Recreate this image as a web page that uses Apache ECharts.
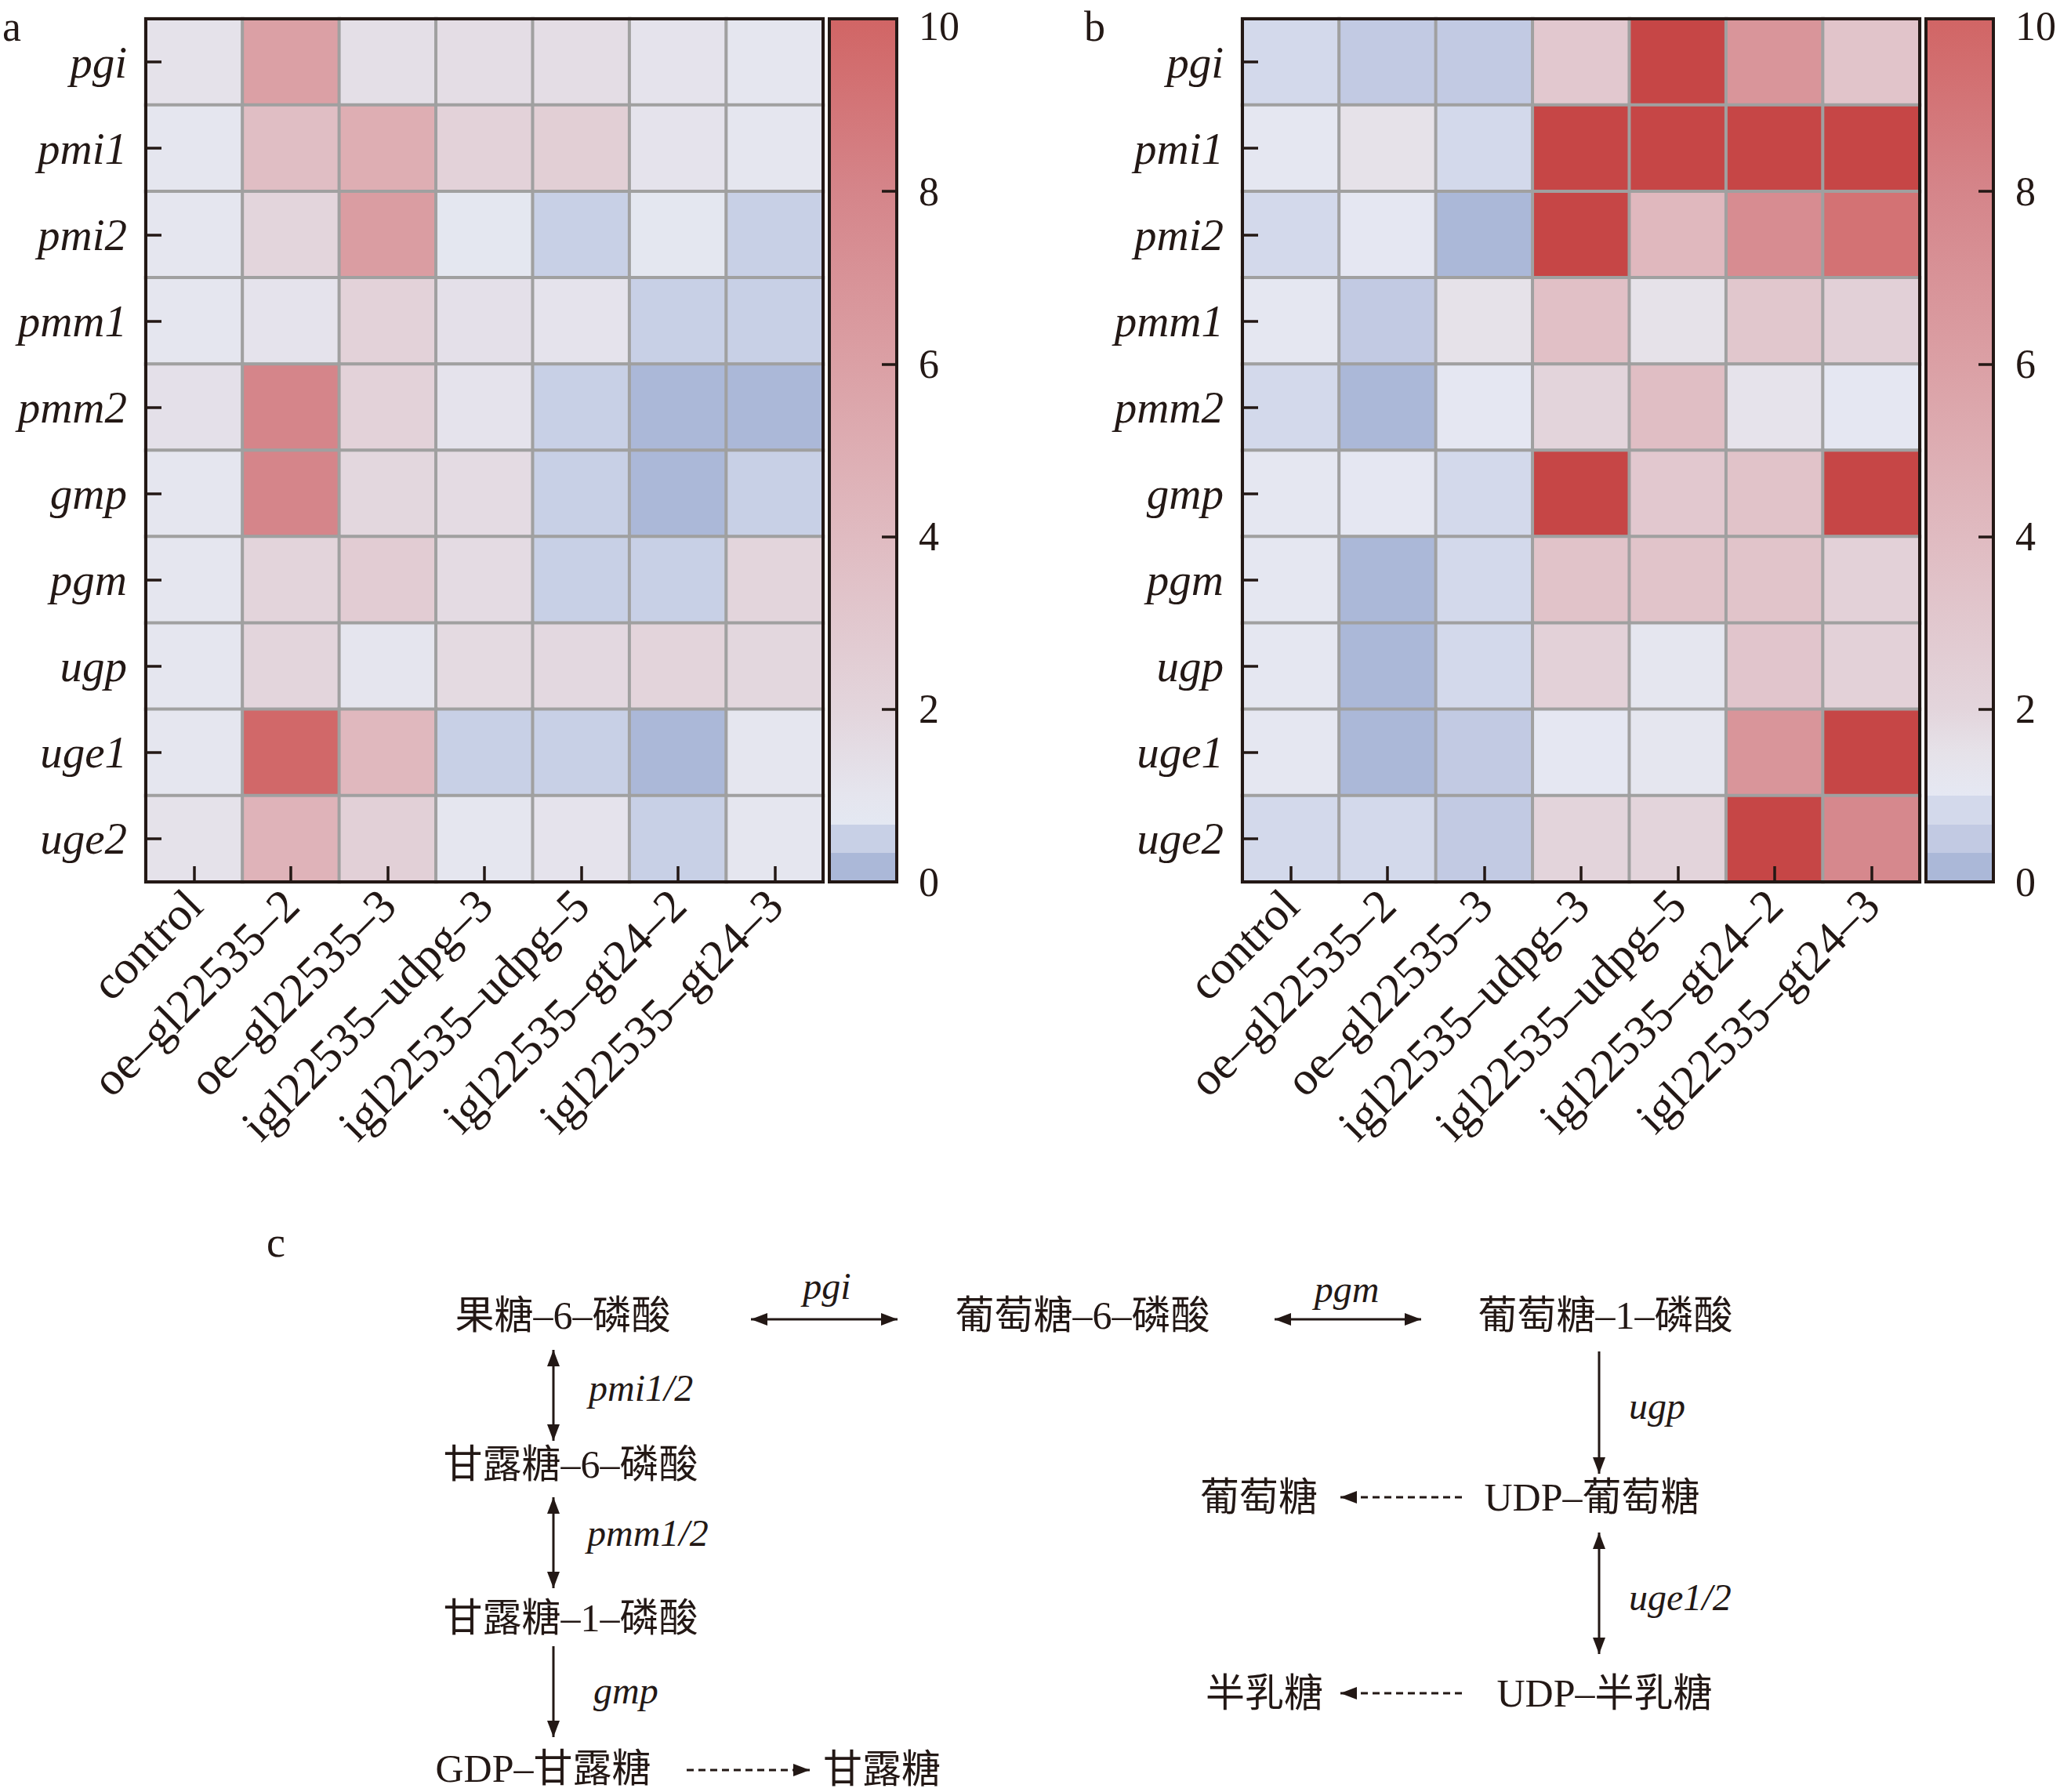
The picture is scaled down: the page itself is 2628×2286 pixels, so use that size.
<!DOCTYPE html>
<html>
<head>
<meta charset="utf-8">
<title>gene expression heatmaps</title>
<script src="https://cdn.jsdelivr.net/npm/echarts@6/dist/echarts.min.js"></script>
<style>
html, body { margin: 0; padding: 0; background: #fff; }
#chart { width: 2628px; height: 2286px; }
</style>
</head>
<body>
<div id="chart"></div>
<script>
// rows (genes) and columns (lines)
var genes = ['pgi', 'pmi1', 'pmi2', 'pmm1', 'pmm2', 'gmp', 'pgm', 'ugp', 'uge1', 'uge2'];
var samples = ['control', 'oe–gl22535–2', 'oe–gl22535–3', 'igl22535–udpg–3',
	'igl22535–udpg–5', 'igl22535–gt24–2', 'igl22535–gt24–3'];

// panel a, one row per gene, columns in sample order
var valuesA = [
	[1.2, 6.0, 1.4, 1.5, 1.5, 1.1, 0.9],
	[0.9, 3.8, 5.0, 2.2, 2.5, 1.1, 0.9],
	[0.9, 2.0, 6.2, 0.8, 0.5, 0.8, 0.5],
	[0.9, 1.1, 2.2, 1.3, 1.1, 0.5, 0.5],
	[1.3, 8.0, 2.2, 1.1, 0.5, 0.2, 0.2],
	[0.9, 8.0, 1.9, 1.6, 0.5, 0.2, 0.5],
	[0.9, 2.1, 2.7, 1.6, 0.5, 0.5, 2.0],
	[0.9, 2.0, 1.0, 1.7, 1.8, 2.1, 1.9],
	[0.9, 9.8, 4.2, 0.5, 0.5, 0.2, 0.9],
	[1.2, 4.6, 2.4, 0.9, 1.1, 0.5, 0.9]
];
// panel b, same layout; 11 = above the top of the scale
var valuesB = [
	[0.8, 0.5, 0.5, 3.0, 11, 6.8, 3.3],
	[1.1, 1.5, 0.8, 11, 11, 11, 11],
	[0.8, 1.05, 0.2, 11, 4.2, 7.5, 9.2],
	[1.1, 0.5, 1.5, 3.6, 1.5, 3.1, 2.4],
	[0.8, 0.2, 1.05, 2.1, 3.8, 1.4, 1.05],
	[1.1, 1.05, 0.8, 11, 3.0, 3.4, 11],
	[1.1, 0.2, 0.8, 3.4, 3.3, 3.3, 2.3],
	[1.1, 0.2, 0.8, 2.3, 1.2, 3.2, 2.3],
	[1.1, 0.2, 0.5, 1.05, 1.2, 6.8, 11],
	[0.8, 0.8, 0.5, 2.1, 2.1, 11, 7.8]
];

// colour bar axis
var scaleMin = 0;
var scaleMax = 10;
var scaleStep = 2;

// pathway (panel c)
var pathwayNodes = ['果糖–6–磷酸', '葡萄糖–6–磷酸', '葡萄糖–1–磷酸', '甘露糖–6–磷酸', '甘露糖–1–磷酸',
	'GDP–甘露糖', '甘露糖', 'UDP–葡萄糖', '葡萄糖', 'UDP–半乳糖', '半乳糖'];
var pathwayLinks = [
	['果糖–6–磷酸', '葡萄糖–6–磷酸', 'pgi', 'both'],
	['葡萄糖–6–磷酸', '葡萄糖–1–磷酸', 'pgm', 'both'],
	['果糖–6–磷酸', '甘露糖–6–磷酸', 'pmi1/2', 'both'],
	['甘露糖–6–磷酸', '甘露糖–1–磷酸', 'pmm1/2', 'both'],
	['甘露糖–1–磷酸', 'GDP–甘露糖', 'gmp', 'single'],
	['GDP–甘露糖', '甘露糖', '', 'dashed'],
	['葡萄糖–1–磷酸', 'UDP–葡萄糖', 'ugp', 'single'],
	['UDP–葡萄糖', '葡萄糖', '', 'dashed'],
	['UDP–葡萄糖', 'UDP–半乳糖', 'uge1/2', 'both'],
	['UDP–半乳糖', '半乳糖', '', 'dashed']
];

// ---- styles / layout ----
var ink = '#231815';
var serif = "'Liberation Serif', 'Times New Roman', serif";
var cjk = "'Liberation Serif', 'Noto Sans CJK SC', serif";
var overColor = '#c64646';
var stopsA = [
	[0, '#abb8d8'], [0.333, '#abb8d8'],
	[0.333, '#c8d0e6'], [0.667, '#c8d0e6'],
	[0.667, '#e4e8f2'], [1.0, '#e5e5ee'], [2, '#e3d5dc'], [4, '#e0bbc1'],
	[6, '#dba0a5'], [8, '#d5858a'], [10, '#d16565']
];
var stopsB = [
	[0, '#abb8d8'], [0.333, '#abb8d8'],
	[0.333, '#c2cae3'], [0.667, '#c2cae3'],
	[0.667, '#d3d9eb'], [1.0, '#d3d9eb'],
	[1.0, '#e5e8f3'], [1.5, '#e6e2e9'], [2, '#e3d5dc'], [4, '#e0bbc1'],
	[6, '#dba0a5'], [8, '#d5858a'], [10, '#d16565']
];
var mapMax = 11;

var panels = [
	{ values: valuesA, stops: stopsA, letter: 'a', letterPos: [3, 7],
		heat: { left: 186, top: 24, width: 864, height: 1101 },
		bar: { left: 1058, top: 24, width: 86, height: 1101 } },
	{ values: valuesB, stops: stopsB, letter: 'b', letterPos: [1383, 7],
		heat: { left: 1585, top: 24, width: 864, height: 1101 },
		bar: { left: 2457, top: 24, width: 86, height: 1101 } }
];

var nodePos = {
	'果糖–6–磷酸': [718, 1678],
	'葡萄糖–6–磷酸': [1381, 1678],
	'葡萄糖–1–磷酸': [2048, 1678],
	'甘露糖–6–磷酸': [728, 1868],
	'甘露糖–1–磷酸': [728, 2064],
	'GDP–甘露糖': [693, 2256],
	'甘露糖': [1125, 2257],
	'UDP–葡萄糖': [2031, 1910],
	'葡萄糖': [1606, 1910],
	'UDP–半乳糖': [2047, 2160],
	'半乳糖': [1613, 2160]
};
// arrow end points and enzyme label anchor, in pathwayLinks order
var linkGeom = [
	{ p: [958, 1683, 1145, 1683], label: [1055, 1640], align: 'center' },
	{ p: [1626, 1683, 1813, 1683], label: [1718, 1644], align: 'center' },
	{ p: [706, 1722, 706, 1838], label: [751, 1770], align: 'left' },
	{ p: [706, 1910, 706, 2026], label: [749, 1955], align: 'left' },
	{ p: [706, 2100, 706, 2216], label: [757, 2156], align: 'left' },
	{ p: [876, 2258, 1033, 2258], label: null },
	{ p: [2040, 1724, 2040, 1880], label: [2078, 1793], align: 'left' },
	{ p: [1865, 1910, 1710, 1910], label: null },
	{ p: [2040, 1955, 2040, 2110], label: [2078, 2037], align: 'left' },
	{ p: [1865, 2160, 1710, 2160], label: null }
];

function hexToRgb(h){
	return [parseInt(h.slice(1, 3), 16), parseInt(h.slice(3, 5), 16), parseInt(h.slice(5, 7), 16)];
}
function mix(c1, c2, t){
	var a = hexToRgb(c1), b = hexToRgb(c2);
	return 'rgb(' + [0, 1, 2].map(function(i){ return Math.round(a[i] + (b[i] - a[i]) * t); }).join(',') + ')';
}
function colorAt(stops, v){
	if (v > scaleMax) return overColor;
	if (v <= stops[0][0]) return stops[0][1];
	for (var i = 0; i < stops.length - 1; i++) {
		var s0 = stops[i], s1 = stops[i + 1];
		if (s1[0] > s0[0] && v >= s0[0] && v <= s1[0]) {
			return mix(s0[1], s1[1], (v - s0[0]) / (s1[0] - s0[0]));
		}
	}
	return stops[stops.length - 1][1];
}
function sampleColors(stops){
	var out = [];
	for (var i = 0; i <= mapMax * 100; i++) out.push(colorAt(stops, i / 100));
	return out;
}
function heatData(values){
	var out = [];
	values.forEach(function(row, r){
		row.forEach(function(v, c){ out.push([c, r, v]); });
	});
	return out;
}
function colorbarRenderer(stops){
	var grad = stops.map(function(s){ return { offset: s[0] / scaleMax, color: s[1] }; });
	return function(params, api){
		var p0 = api.coord([0, api.value(0)]);
		var p1 = api.coord([1, api.value(1)]);
		return {
			type: 'rect',
			shape: { x: p0[0], y: p1[1], width: p1[0] - p0[0], height: p0[1] - p1[1] },
			style: { fill: new echarts.graphic.LinearGradient(0, 1, 0, 0, grad) }
		};
	};
}

var grids = [], xAxes = [], yAxes = [], series = [], visualMaps = [], graphics = [];
panels.forEach(function(pn, k){
	var gi = grids.length;
	grids.push(Object.assign({ show: true, z: 3, borderColor: ink, borderWidth: 4,
		backgroundColor: 'transparent', outerBoundsMode: 'none' }, pn.heat));
	grids.push(Object.assign({ show: true, z: 3, borderColor: ink, borderWidth: 4,
		backgroundColor: 'transparent', outerBoundsMode: 'none' }, pn.bar));

	xAxes.push({
		type: 'category', gridIndex: gi, data: samples, position: 'bottom', z: 4,
		axisLine: { show: true, onZero: false, lineStyle: { color: ink, width: 4 } },
		axisTick: { show: true, inside: true, alignWithLabel: true, interval: 0, length: 20,
			lineStyle: { color: ink, width: 3.5 } },
		axisLabel: { rotate: 45, interval: 0, margin: 20, fontFamily: serif, fontSize: 60, color: ink },
		splitLine: { show: false }
	});
	xAxes.push({ type: 'value', gridIndex: gi + 1, min: 0, max: 1, show: false,
		axisLine: { onZero: false } });

	yAxes.push({
		type: 'category', gridIndex: gi, data: genes, inverse: true, z: 4,
		axisLine: { show: true, onZero: false, lineStyle: { color: ink, width: 4 } },
		axisTick: { show: true, inside: true, alignWithLabel: true, interval: 0, length: 20,
			lineStyle: { color: ink, width: 3.5 } },
		axisLabel: { interval: 0, margin: 24, fontFamily: serif, fontStyle: 'italic', fontSize: 57, color: ink },
		splitLine: { show: false }
	});
	yAxes.push({
		type: 'value', gridIndex: gi + 1, min: scaleMin, max: scaleMax, interval: scaleStep,
		position: 'right', z: 4,
		axisLine: { show: true, onZero: false, lineStyle: { color: ink, width: 4 } },
		axisTick: { show: true, inside: true, length: 19, lineStyle: { color: ink, width: 3.5 } },
		axisLabel: {
			margin: 28, fontFamily: serif, fontSize: 52, lineHeight: 46, color: ink,
			showMinLabel: true, showMaxLabel: true,
			// top label sits against the page edge, nudge it down a little
			formatter: function(v){ return v === scaleMax ? '{top|' + v + '}' : String(v); },
			rich: { top: { padding: [18, 0, 0, 0], fontFamily: serif, fontSize: 52, lineHeight: 46, color: ink } }
		},
		splitLine: { show: false }
	});

	visualMaps.push({
		type: 'continuous', show: false, seriesIndex: series.length, dimension: 2,
		min: 0, max: mapMax, inRange: { color: sampleColors(pn.stops) }
	});
	series.push({
		type: 'heatmap', xAxisIndex: gi, yAxisIndex: gi, data: heatData(pn.values),
		itemStyle: { borderColor: '#a0a0a0', borderWidth: 4 },
		emphasis: { disabled: true }
	});
	series.push({
		type: 'custom', xAxisIndex: gi + 1, yAxisIndex: gi + 1, silent: true,
		data: [[scaleMin, scaleMax]],
		renderItem: colorbarRenderer(pn.stops)
	});

	graphics.push({ type: 'text', x: pn.letterPos[0], y: pn.letterPos[1],
		style: { text: pn.letter, fontFamily: serif, fontSize: 54, fill: ink, align: 'left', verticalAlign: 'top' } });
});

// ---- panel c: pathway ----
graphics.push({ type: 'text', x: 340, y: 1585,
	style: { text: 'c', fontFamily: serif, fontSize: 54, fill: ink, align: 'left', verticalAlign: 'middle' } });

pathwayNodes.forEach(function(name){
	var p = nodePos[name];
	graphics.push({ type: 'text', x: p[0], y: p[1],
		style: { text: name, fontFamily: cjk, fontSize: 50, fill: ink, align: 'center', verticalAlign: 'middle' } });
});

function arrowHead(tx, ty, dx, dy){
	var len = Math.sqrt(dx * dx + dy * dy), ux = dx / len, uy = dy / len;
	var L = 21, W = 8;
	var bx = tx - ux * L, by = ty - uy * L;
	return { type: 'polygon', shape: { points: [[tx, ty], [bx - uy * W, by + ux * W], [bx + uy * W, by - ux * W]] },
		style: { fill: ink } };
}

pathwayLinks.forEach(function(link, i){
	var g = linkGeom[i], p = g.p, kind = link[3];
	var dx = p[2] - p[0], dy = p[3] - p[1];
	graphics.push({ type: 'line', shape: { x1: p[0], y1: p[1], x2: p[2], y2: p[3] },
		style: { stroke: ink, lineWidth: 3, lineDash: kind === 'dashed' ? [9, 6] : null } });
	graphics.push(arrowHead(p[2], p[3], dx, dy));
	if (kind === 'both') graphics.push(arrowHead(p[0], p[1], -dx, -dy));
	if (link[2] && g.label) {
		graphics.push({ type: 'text', x: g.label[0], y: g.label[1],
			style: { text: link[2], fontFamily: serif, fontStyle: 'italic', fontSize: 48, fill: ink,
				align: g.align, verticalAlign: 'middle' } });
	}
});

var chart = echarts.init(document.getElementById('chart'), null, { renderer: 'svg' });
chart.setOption({
	animation: false,
	backgroundColor: '#fff',
	textStyle: { fontFamily: serif },
	grid: grids,
	xAxis: xAxes,
	yAxis: yAxes,
	visualMap: visualMaps,
	series: series,
	graphic: graphics
});
</script>
</body>
</html>
